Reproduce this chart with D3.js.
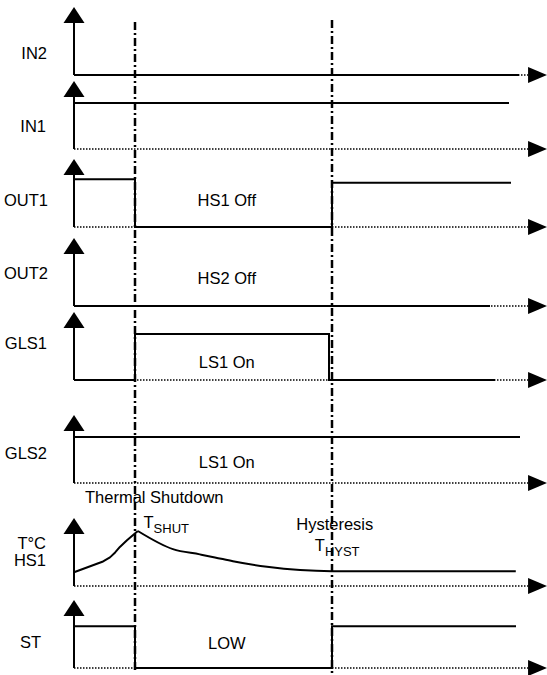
<!DOCTYPE html>
<html>
<head>
<meta charset="utf-8">
<script src="https://cdn.jsdelivr.net/npm/d3@7"></script>
<style>
    body { margin: 0; background: #fff; }
    svg { display: block; font-family: 'Liberation Sans', Arial, sans-serif; }
    .info { font-size: 16.5px; fill: #000; }
    .sub { font-size: 13px; }
</style>
</head>
<body>
<div id="graf"></div>
<script>
// Datos: tiempo relativo 0-100, nivel 0 = bajo, 1 = alto
const senales = ['IN2', 'IN1', 'OUT1', 'OUT2', 'GLS1', 'GLS2', 'T°C|HS1', 'ST']
const estados = ['', '', 'HS1 Off', 'HS2 Off', 'LS1 On', 'LS1 On', '', 'LOW']
const eventos = [13, 54.5]
const finEje = 96

const nivelesIN2 = [[0, 0], [94, 0]]
const nivelesIN1 = [[0, 1], [92, 1]]
const nivelesOUT1 = [[0, 1.04], [13, 0], [54.5, 0.96], [92.4, 0.96]]
const nivelesOUT2 = [[0, 0], [88, 0]]
const nivelesGLS1 = [[0, 0], [13, 1], [54, 0], [89, 0]]
const nivelesGLS2 = [[0, 1], [94.3, 1]]
const nivelesST = [[0, 0.91], [13, 0], [54.5, 0.91], [93.4, 0.91]]

// Temperatura HS1 (100 = T SHUT)
const tempSubida = [[0, 25], [6, 44], [6.6, 47], [7.6, 52], [8.7, 61], [9.7, 71], [11.2, 83], [13.5, 100]]
const tempBajada = [[13.5, 100], [20.9, 67], [26.6, 57.5], [29.8, 52], [33.6, 45], [40.8, 35], [47.8, 29], [54.5, 27], [93.4, 27]]

// Configuración de la gráfica
function load() {
    const ancho = 547
    const height = 675
    const ejeX = 74

    // Posiciones de cada fila (línea base y etiqueta)
    const bases = [75, 149, 227, 306, 380, 483, 586, 668]
    const etiquetasY = [53, 126, 200, 273, 343, 453, 543, 642]
    const etiquetasX = [47, 46, 48, 48, 47, 47, 46, 41]
    const estadosY = [0, 0, 200, 278, 362, 462, 0, 643]
    const niveles = [nivelesIN2, nivelesIN1, nivelesOUT1, nivelesOUT2, nivelesGLS1, nivelesGLS2, null, nivelesST]

    const svg = d3.select('#graf')
        .append('svg')
        .attr('width', ancho)
        .attr('height', height)

    const xScale = d3.scaleLinear()
        .domain([0, 100])
        .range([ejeX, ancho])

    // Líneas verticales de eventos (raya-punto)
    svg.selectAll('.evento')
        .data(eventos)
        .enter()
        .append('line')
        .attr('class', 'evento')
        .attr('x1', d => Math.round(xScale(d)))
        .attr('x2', d => Math.round(xScale(d)))
        .attr('y1', (d, i) => i === 0 ? 22 : 20)
        .attr('y2', 673)
        .attr('stroke', '#000')
        .attr('stroke-width', 2.5)
        .attr('stroke-dasharray', '8,3,2,3')

    senales.forEach((nombre, i) => {
        const base = bases[i]
        const g = svg.append('g')

        // Eje de tiempo punteado con flecha
        g.append('line')
            .attr('x1', xScale(0))
            .attr('x2', xScale(finEje))
            .attr('y1', base)
            .attr('y2', base)
            .attr('stroke', '#000')
            .attr('stroke-width', 1.4)
            .attr('stroke-dasharray', '1.5,1.5')
        g.append('path')
            .attr('d', `M${xScale(finEje)},${base - 8}L${xScale(100)},${base}L${xScale(finEje)},${base + 8}Z`)
            .attr('fill', '#000')

        // Eje vertical con flecha
        const tope = base - 68
        g.append('line')
            .attr('x1', ejeX)
            .attr('x2', ejeX)
            .attr('y1', base)
            .attr('y2', tope + 14)
            .attr('stroke', '#000')
            .attr('stroke-width', 2)
        g.append('path')
            .attr('d', `M${ejeX - 10.5},${tope + 16}L${ejeX},${tope}L${ejeX + 10.5},${tope + 16}Z`)
            .attr('fill', '#000')

        // Señal digital
        if (niveles[i]) {
            const yScale = d3.scaleLinear()
                .domain([0, 1])
                .range([base, base - 46])
            const linea = d3.line()
                .x(d => Math.round(xScale(d[0])))
                .y(d => yScale(d[1]))
                .curve(d3.curveStepAfter)
            g.append('path')
                .attr('d', linea(niveles[i]))
                .attr('fill', 'none')
                .attr('stroke', '#000')
                .attr('stroke-width', 2)
        } else {
            const tScale = d3.scaleLinear()
                .domain([0, 100])
                .range([base, base - 55])
            g.append('path')
                .attr('d', d3.line().x(d => xScale(d[0])).y(d => tScale(d[1]))(tempSubida))
                .attr('fill', 'none')
                .attr('stroke', '#000')
                .attr('stroke-width', 2)
                .attr('stroke-linejoin', 'round')
            g.append('path')
                .attr('d', d3.line().x(d => xScale(d[0])).y(d => tScale(d[1])).curve(d3.curveMonotoneX)(tempBajada))
                .attr('fill', 'none')
                .attr('stroke', '#000')
                .attr('stroke-width', 2)
        }

        // Nombre de la señal
        const partes = nombre.split('|')
        partes.forEach((p, k) => {
            g.append('text')
                .attr('x', etiquetasX[i])
                .attr('y', etiquetasY[i] + k * 17)
                .attr('dy', '0.35em')
                .attr('text-anchor', 'end')
                .attr('class', 'info')
                .text(p)
        })

        // Estado durante el apagado
        if (estados[i]) {
            g.append('text')
                .attr('x', xScale(32.3))
                .attr('y', estadosY[i])
                .attr('dy', '0.35em')
                .attr('text-anchor', 'middle')
                .attr('class', 'info')
                .text(estados[i])
        }
    })

    // Anotaciones térmicas
    svg.append('text')
        .attr('x', 85)
        .attr('y', 503)
        .attr('class', 'info')
        .text('Thermal Shutdown')

    const tShut = svg.append('text')
        .attr('x', xScale(eventos[0]) + 8)
        .attr('y', 528)
        .attr('class', 'info')
    tShut.append('tspan').text('T')
    tShut.append('tspan').attr('class', 'sub').attr('dy', 5).text('SHUT')

    svg.append('text')
        .attr('x', xScale(eventos[1]) + 3)
        .attr('y', 530)
        .attr('text-anchor', 'middle')
        .attr('class', 'info')
        .text('Hysteresis')

    const tHyst = svg.append('text')
        .attr('x', xScale(eventos[1]) - 17)
        .attr('y', 551)
        .attr('class', 'info')
    tHyst.append('tspan').text('T')
    tHyst.append('tspan').attr('class', 'sub').attr('dy', 5).text('HYST')
}

load()
</script>
</body>
</html>
